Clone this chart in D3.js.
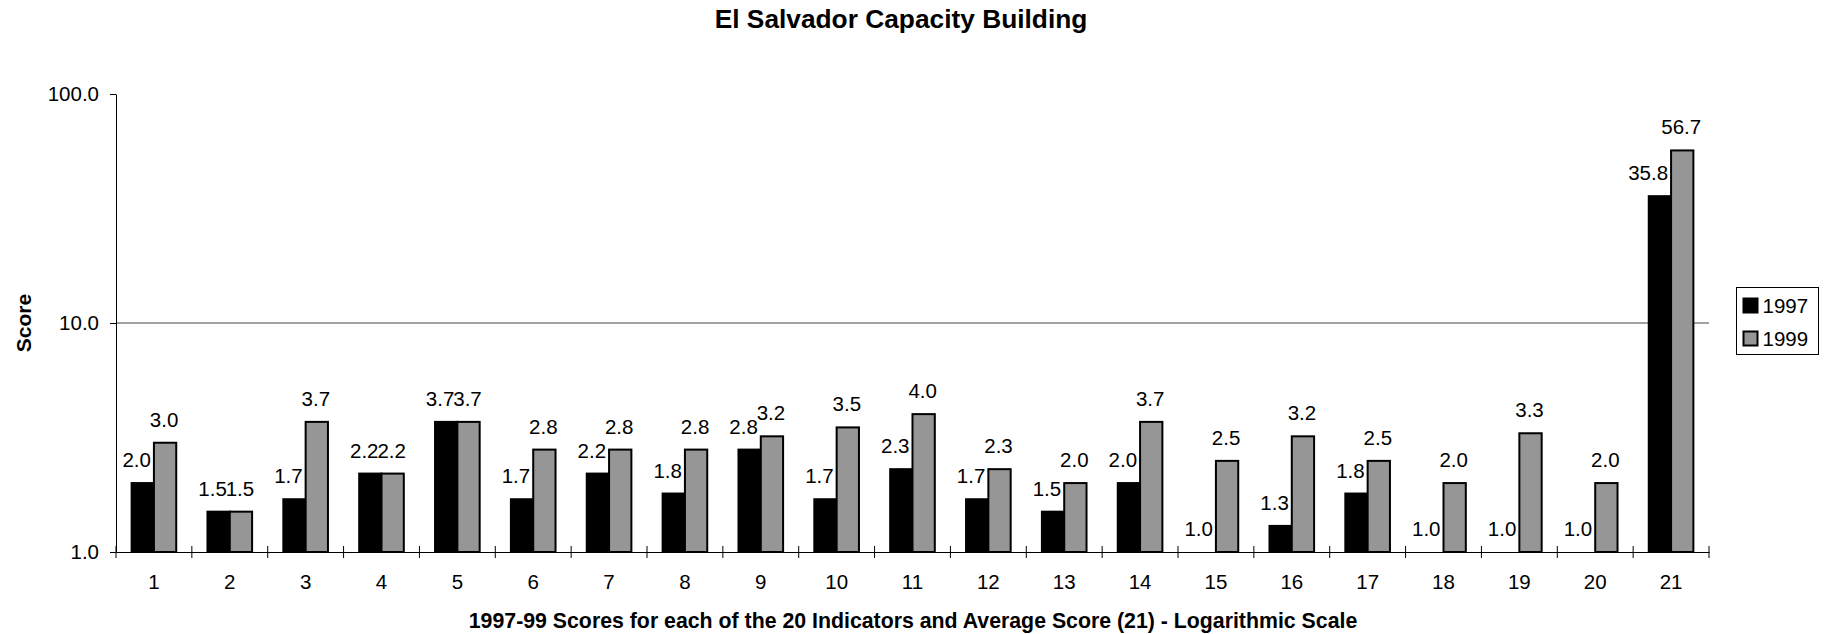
<!DOCTYPE html>
<html>
<head>
<meta charset="utf-8">
<script src="https://cdn.jsdelivr.net/npm/d3@7"></script>
<style>
body { margin: 0; background: #fff; }
svg text { font-family: "Liberation Sans", Arial, sans-serif; fill: #000; }
</style>
</head>
<body>
<svg class="chart" width="1833" height="634"></svg>
<script>
var width = 1833,
	height = 634;

// data
var categories = ['1','2','3','4','5','6','7','8','9','10','11','12','13','14','15','16','17','18','19','20','21'];
var seriesNames = ['1997', '1999'];
var scores1997 = [2.0,1.5,1.7,2.2,3.7,1.7,2.2,1.8,2.8,1.7,2.3,1.7,1.5,2.0,1.0,1.3,1.8,1.0,1.0,1.0,35.8];
var scores1999 = [3.0,1.5,3.7,2.2,3.7,2.8,2.8,2.8,3.2,3.5,4.0,2.3,2.0,3.7,2.5,3.2,2.5,2.0,3.3,2.0,56.7];
var yTicks = [1, 10, 100];

var colors = {'1997': '#000000', '1999': '#969696'};

var plot = {left: 116, right: 1709, top: 94, bottom: 552};

var svg = d3.select('.chart');

//Scales
var x0 = d3.scaleBand()
	.domain(categories)
	.range([plot.left, plot.right])
	.padding(0);

var x1 = d3.scaleBand()
	.domain(seriesNames)
	.range([0, x0.bandwidth()])
	.paddingInner(0)
	.paddingOuter(0.7);

var y = d3.scaleLog()
	.domain([1, 100])
	.range([plot.bottom, plot.top]);

var rows = categories.map(function(c, i) {
	return {cat: c, vals: [
		{key: '1997', value: scores1997[i]},
		{key: '1999', value: scores1999[i]}
	]};
});

//Gridline at 10
svg.append('g')
	.selectAll('line')
	.data(yTicks.filter(function(d){ return d > 1 && d < 100; }))
	.enter()
	.append('line')
	.attr('x1', plot.left)
	.attr('x2', plot.right)
	.attr('y1', function(d){ return y(d); })
	.attr('y2', function(d){ return y(d); })
	.attr('stroke', '#444')
	.attr('stroke-width', 1);

//Bars
var groups = svg.append('g')
	.selectAll('g')
	.data(rows)
	.enter()
	.append('g')
	.attr('transform', function(d){ return 'translate(' + x0(d.cat) + ',0)'; });

groups.selectAll('rect')
	.data(function(d){ return d.vals; })
	.enter()
	.append('rect')
	.attr('x', function(d){ return x1(d.key); })
	.attr('width', x1.bandwidth())
	.attr('y', function(d){ return y(d.value); })
	.attr('height', function(d){ return plot.bottom - y(d.value); })
	.attr('fill', function(d){ return colors[d.key]; })
	.attr('stroke', '#000')
	.attr('stroke-width', function(d){ return plot.bottom - y(d.value) > 0 ? 2 : 0; });

//Value labels (1997 pushed left of the 1999 bar like the original)
groups.selectAll('text')
	.data(function(d){ return d.vals; })
	.enter()
	.append('text')
	.attr('x', function(d){
		return d.key === '1997' ? x1(d.key) + x1.bandwidth() - 3 : x1(d.key) + x1.bandwidth()/2 - 1;
	})
	.attr('y', function(d){ return y(d.value) - 16; })
	.attr('text-anchor', function(d){ return d.key === '1997' ? 'end' : 'middle'; })
	.attr('font-size', '20.5px')
	.text(function(d){ return d3.format('.1f')(d.value); });

//Y axis
var yAxis = svg.append('g')
	.attr('transform', 'translate(' + plot.left + ',0)')
	.call(d3.axisLeft(y).tickValues(yTicks).tickFormat(d3.format('.1f')).tickSize(6).tickSizeOuter(0).tickPadding(11));
yAxis.selectAll('text').attr('font-size', '20.5px').attr('font-family', '"Liberation Sans", Arial, sans-serif').attr('fill', '#000');
yAxis.selectAll('line, path').attr('stroke', '#000');

//X axis labels (centred) + boundary ticks
var xAxis = svg.append('g')
	.attr('transform', 'translate(0,' + plot.bottom + ')')
	.call(d3.axisBottom(x0).tickSize(0).tickPadding(22));
xAxis.selectAll('text').attr('font-size', '20.5px').attr('font-family', '"Liberation Sans", Arial, sans-serif').attr('fill', '#000');
xAxis.select('.domain').attr('stroke', '#000');

var bounds = categories.map(function(c){ return x0(c); }).concat([plot.right]);
xAxis.selectAll('.bound')
	.data(bounds)
	.enter()
	.append('line')
	.attr('class', 'bound')
	.attr('x1', function(d){ return d; })
	.attr('x2', function(d){ return d; })
	.attr('y1', -6)
	.attr('y2', 6)
	.attr('stroke', '#000');

//Titles
svg.append('text')
	.attr('x', 901)
	.attr('y', 28)
	.attr('text-anchor', 'middle')
	.attr('font-size', '26.3px')
	.attr('font-weight', 'bold')
	.text('El Salvador Capacity Building');

svg.append('text')
	.attr('x', 913)
	.attr('y', 628)
	.attr('text-anchor', 'middle')
	.attr('font-size', '21.3px')
	.attr('font-weight', 'bold')
	.text('1997-99 Scores for each of the 20 Indicators and Average Score (21) - Logarithmic Scale');

svg.append('text')
	.attr('transform', 'translate(31,' + (plot.top + plot.bottom)/2 + ') rotate(-90)')
	.attr('text-anchor', 'middle')
	.attr('font-size', '21px')
	.attr('font-weight', 'bold')
	.text('Score');

//Legend
var legend = svg.append('g')
	.attr('transform', 'translate(1736.5,287.5)');

legend.append('rect')
	.attr('width', 82)
	.attr('height', 67)
	.attr('fill', '#fff')
	.attr('stroke', '#000')
	.attr('stroke-width', 1);

var items = legend.selectAll('.item')
	.data(seriesNames)
	.enter()
	.append('g')
	.attr('class', 'item')
	.attr('transform', function(d, i){ return 'translate(7,' + (11 + i*33) + ')'; });

items.append('rect')
	.attr('width', 14)
	.attr('height', 14)
	.attr('fill', function(d){ return colors[d]; })
	.attr('stroke', '#000')
	.attr('stroke-width', 2);

items.append('text')
	.attr('x', 19)
	.attr('y', 14)
	.attr('font-size', '20.5px')
	.text(function(d){ return d; });
</script>
</body>
</html>
